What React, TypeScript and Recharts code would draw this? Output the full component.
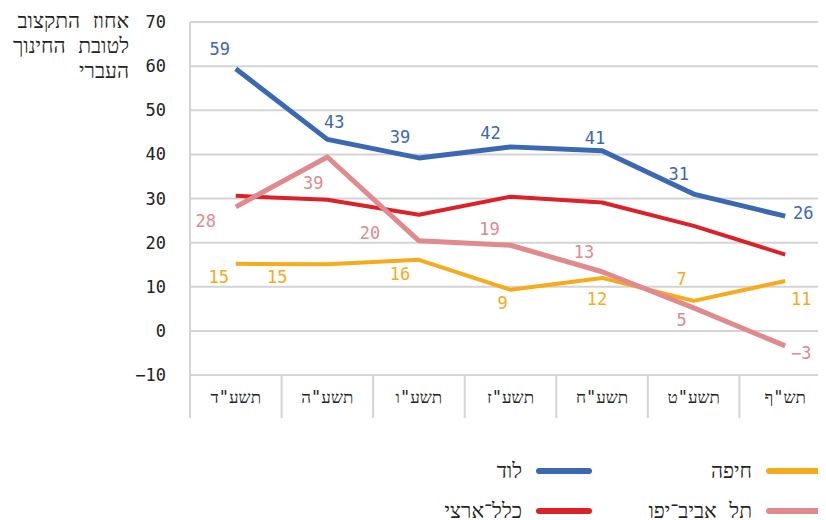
import { LineChart, Line, XAxis, YAxis, CartesianGrid, LabelList } from "recharts";

const years = ["תשע\"ד", "תשע\"ה", "תשע\"ו", "תשע\"ז", "תשע\"ח", "תשע\"ט", "תש\"ף"];
const lod = [59.4, 43.4, 39.2, 41.7, 40.8, 31.0, 26.0];
const national = [30.6, 29.7, 26.3, 30.4, 29.1, 23.8, 17.3];
const telAviv = [28.1, 39.4, 20.4, 19.4, 13.4, 5.2, -3.4];
const haifa = [15.2, 15.1, 16.1, 9.3, 12.0, 6.8, 11.3];
const yTicks = [-10, 0, 10, 20, 30, 40, 50, 60, 70];
const yTitle = ["אחוז התקצוב", "לטובת החינוך", "העברי"];

// label nudges (dx, dy) per point
const lodOff = [[-16, -20], [7, -17], [-19, -21], [-20, -14], [-7, -13], [-15, -20], [18, -3]];
const telAvivOff = [[-30, 14], [-14, 26], [-49, -8], [-21, -16], [-18, -20], [-12, 12], [16, 7]];
const haifaOff = [[-17, 13], [-50, 13], [-19, 14], [-8, 13], [-5, 21], [-12, -22], [16, 18]];

const FONT = "'DejaVu Sans Mono', monospace";
const FS = 17;
const HEB_FS = 21;
const GRID = "#d4d4d4";
const W = 826;
const PLOT_LEFT = 190;
const PLOT_RIGHT_MARGIN = -5;
const BAND = (W - PLOT_LEFT - PLOT_RIGHT_MARGIN) / years.length;

const fmt = (v: number) => String(Math.round(v)).replace("-", "\u2212");

const series = [
  { key: "national", name: "כלל־ארצי", color: "#dc2228", width: 4, data: national, off: null },
  { key: "haifa", name: "חיפה", color: "#f6ab1c", width: 4, data: haifa, off: haifaOff },
  { key: "telAviv", name: "תל אביב־יפו", color: "#e08a8e", width: 5, data: telAviv, off: telAvivOff },
  { key: "lod", name: "לוד", color: "#3a68b2", width: 5, data: lod, off: lodOff },
];

const chartData = years.map((y, i) => ({
  year: y,
  lod: lod[i],
  national: national[i],
  telAviv: telAviv[i],
  haifa: haifa[i],
}));

function XTick(props: any) {
  const { x, y, payload } = props;
  return (
    <g>
      <line x1={x - BAND / 2} x2={x - BAND / 2} y1={y} y2={y + 43} stroke={GRID} strokeWidth={2} />
      <text x={x} y={y + 22} textAnchor="middle" dominantBaseline="central" fill="#222" fontSize={FS} fontFamily={FONT}>
        {payload.value}
      </text>
    </g>
  );
}

function makeLabel(color: string, off: number[][]) {
  return (props: any) => {
    const { x, y, value, index } = props;
    const [dx, dy] = off[index];
    return (
      <text x={x + dx} y={y + dy} textAnchor="middle" dominantBaseline="central" fill={color} fontSize={FS} fontFamily={FONT}>
        {fmt(value)}
      </text>
    );
  };
}

const legendRows = [
  [series[1], series[3]],
  [series[2], series[0]],
];

export default function App() {
  return (
    <div style={{ margin: "-8px 0 0 -8px", width: W, height: 520, position: "relative", background: "#fff", fontFamily: FONT }}>
      <div style={{ position: "absolute", right: W - 129, top: 9, textAlign: "right", direction: "rtl", fontSize: HEB_FS, lineHeight: "25px", color: "#222", whiteSpace: "nowrap" }}>
        {yTitle.map((t) => (
          <div key={t}>{t}</div>
        ))}
      </div>
      <LineChart width={W} height={420} data={chartData} margin={{ top: 22, right: PLOT_RIGHT_MARGIN, bottom: 2, left: 0 }}>
        <CartesianGrid vertical={false} stroke={GRID} strokeWidth={2} />
        <XAxis
          dataKey="year"
          height={43}
          axisLine={false}
          tickLine={false}
          tickSize={0}
          tickMargin={0}
          tick={<XTick />}
          interval={0}
          padding={{ left: BAND / 2, right: BAND / 2 }}
        />
        <YAxis
          width={PLOT_LEFT}
          domain={[-10, 70]}
          ticks={yTicks}
          tickLine={false}
          axisLine={{ stroke: GRID, strokeWidth: 2 }}
          tickMargin={18}
          tickFormatter={fmt}
          tick={{ fill: "#222", fontSize: FS, fontFamily: FONT }}
        />
        {series.map((s) => (
          <Line
            key={s.key}
            dataKey={s.key}
            stroke={s.color}
            strokeWidth={s.width}
            dot={false}
            activeDot={false}
            isAnimationActive={false}
            strokeLinejoin="round"
          >
            {s.off && <LabelList dataKey={s.key} content={makeLabel(s.color, s.off)} />}
          </Line>
        ))}
      </LineChart>
      {legendRows.map((row, r) =>
        row.map((s, c) => (
          <div
            key={s.key}
            style={{
              position: "absolute",
              top: 458 + r * 40,
              right: 4 + c * 230,
              display: "flex",
              alignItems: "center",
              gap: 14,
              fontSize: HEB_FS,
              lineHeight: "26px",
              color: "#222",
              whiteSpace: "nowrap",
            }}
          >
            <span style={{ direction: "rtl" }}>{s.name}</span>
            <span style={{ width: 56, height: 6, borderRadius: 3, background: s.color, display: "inline-block" }} />
          </div>
        ))
      )}
    </div>
  );
}
